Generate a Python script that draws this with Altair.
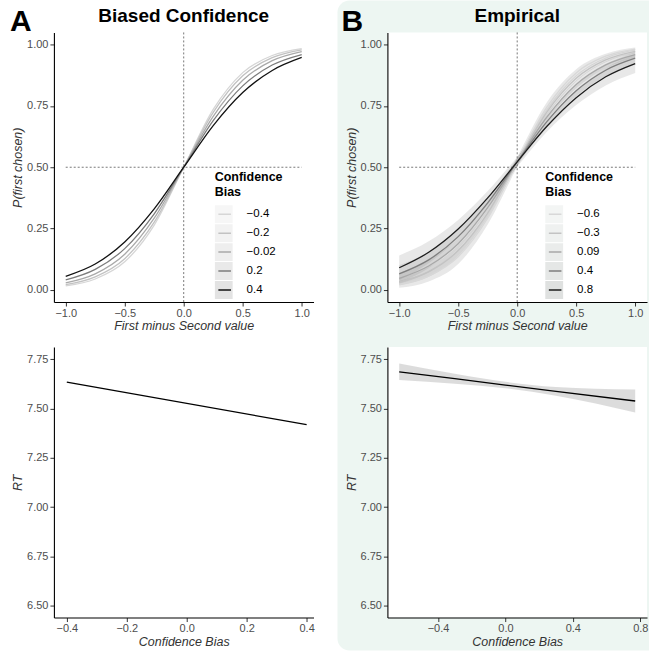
import altair as alt
import pandas as pd

FONT = "Liberation Sans"

# ---------------- data ----------------
x_pts = [-1.0, -0.75, -0.5, -0.25, 0.0, 0.25, 0.5, 0.75, 1.0]

# Panel A (Biased Confidence)
a_levels = [-0.4, -0.2, -0.02, 0.2, 0.4]
a_labels = ["\u22120.4", "\u22120.2", "\u22120.02", "0.2", "0.4"]
a_p = [
    [0.016, 0.044, 0.114, 0.264, 0.5, 0.736, 0.886, 0.956, 0.984],
    [0.021, 0.053, 0.127, 0.276, 0.5, 0.724, 0.873, 0.947, 0.979],
    [0.028, 0.065, 0.145, 0.292, 0.5, 0.708, 0.855, 0.935, 0.972],
    [0.040, 0.083, 0.168, 0.310, 0.5, 0.690, 0.832, 0.917, 0.960],
    [0.055, 0.105, 0.195, 0.330, 0.5, 0.670, 0.805, 0.895, 0.948],
]
a_line_colors = ["#d6d6d6", "#c2c2c2", "#a9a9a9", "#7c7c7c", "#111111"]
a_key_fill = ["#f6f6f6", "#f2f2f2", "#eeeeee", "#e9e9e9", "#e3e3e3"]

# Panel B (Empirical)
b_levels = [-0.6, -0.3, 0.09, 0.4, 0.8]
b_labels = ["\u22120.6", "\u22120.3", "0.09", "0.4", "0.8"]
b_p = [
    [0.022, 0.056, 0.135, 0.292, 0.522, 0.744, 0.885, 0.953, 0.982],
    [0.032, 0.073, 0.160, 0.313, 0.522, 0.724, 0.863, 0.938, 0.973],
    [0.047, 0.097, 0.188, 0.335, 0.522, 0.704, 0.838, 0.918, 0.960],
    [0.065, 0.122, 0.217, 0.355, 0.522, 0.685, 0.812, 0.896, 0.945],
    [0.090, 0.153, 0.248, 0.375, 0.522, 0.666, 0.784, 0.869, 0.923],
]
b_hw = [
    [0.014, 0.022, 0.030, 0.026, 0.020, 0.020, 0.015, 0.010, 0.007],
    [0.015, 0.020, 0.022, 0.018, 0.014, 0.015, 0.013, 0.010, 0.008],
    [0.022, 0.024, 0.022, 0.017, 0.013, 0.015, 0.016, 0.014, 0.012],
    [0.035, 0.033, 0.028, 0.020, 0.015, 0.018, 0.022, 0.024, 0.024],
    [0.050, 0.045, 0.037, 0.028, 0.020, 0.022, 0.030, 0.035, 0.038],
]
b_line_colors = ["#d8d8d8", "#c3c3c3", "#a8a8a8", "#7e7e7e", "#1c1c1c"]
b_key_fill = ["#f3f5f4", "#eff1f0", "#eaeceb", "#e5e7e6", "#dfe1e0"]

# Bottom panels (RT vs Confidence Bias)
rtA_x = [-0.4, 0.4]
rtA_y = [7.634, 7.418]
rtB_x = [-0.63, -0.3, 0.0, 0.3, 0.77]
rtB_y = [7.686, 7.651, 7.619, 7.587, 7.538]
rtB_hw = [0.042, 0.025, 0.016, 0.022, 0.058]

p_ticks = [0.0, 0.25, 0.5, 0.75, 1.0]
x_ticks = [-1.0, -0.5, 0.0, 0.5, 1.0]
rt_ticks = [6.5, 6.75, 7.0, 7.25, 7.5, 7.75]
cbA_ticks = [-0.4, -0.2, 0.0, 0.2, 0.4]
cbB_ticks = [-0.4, 0.0, 0.4, 0.8]

# ---------------- tables ----------------
def curves(levels, labels, pmat, hw=None):
    rows = []
    for i, (lv, lb) in enumerate(zip(levels, labels)):
        for j, x in enumerate(x_pts):
            r = {"x": x, "p": pmat[i][j], "bias": lv, "label": lb, "ord": i}
            if hw is not None:
                r["lo"] = pmat[i][j] - hw[i][j]
                r["hi"] = pmat[i][j] + hw[i][j]
            rows.append(r)
    return pd.DataFrame(rows)

dfA = curves(a_levels, a_labels, a_p)
dfB = curves(b_levels, b_labels, b_p, b_hw)
dfRA = pd.DataFrame({"cb": rtA_x, "rt": rtA_y})
dfRB = pd.DataFrame({"cb": rtB_x, "rt": rtB_y,
                     "lo": [a - b for a, b in zip(rtB_y, rtB_hw)],
                     "hi": [a + b for a, b in zip(rtB_y, rtB_hw)]})
one = pd.DataFrame({"k": [0]})
vref = pd.DataFrame({"x": [0.0]})
href = pd.DataFrame({"x": [-1.0], "x2": [1.0], "y": [0.5]})

W, H_TOP, H_BOT = 260, 270, 271

AX = dict(zindex=1, labelFlush=False)
xs_top = alt.Scale(domain=[-1.1, 1.1], nice=False, zero=False)
ys_top = alt.Scale(domain=[-0.05, 1.05], nice=False, zero=False)
ys_rt = alt.Scale(domain=[6.44, 7.812], nice=False, zero=False)

x_top_axis = alt.Axis(values=x_ticks, format=".1f", title="First minus Second value", **AX)
y_top_axis = alt.Axis(values=p_ticks, format=".2f", title="P(first chosen)", **AX)
y_rt_axis = alt.Axis(values=rt_ticks, format=".2f", title="RT", **AX)

LEG_TITLE = ["Confidence", "\u00a0Bias"]

def legend_common(lx, ly):
    return dict(orient="none", legendX=lx, legendY=ly,
                titleFont=FONT, titleFontSize=12.5, titleFontWeight="bold",
                titleColor="black", titleLineHeight=15, titlePadding=6,
                labelFont=FONT, labelFontSize=11.5, labelColor="black",
                symbolSize=324, clipHeight=19, rowPadding=0, labelOffset=12)

def text_layer(txt, xv, yv, size, align):
    return alt.Chart(one).mark_text(text=txt, font=FONT, fontSize=size, fontWeight="bold",
                                    align=align, baseline="alphabetic", color="black") \
        .encode(x=alt.value(xv), y=alt.value(yv))

def top_panel(df, levels, labels, line_colors, key_fill, lx, ly, band=False):
    x = alt.X("x:Q", scale=xs_top, axis=x_top_axis)
    y = alt.Y("p:Q", scale=ys_top, axis=y_top_axis)
    layers = []
    if band:
        layers.append(
            alt.Chart(df).mark_area(color="#8c8c8c", opacity=0.2, interpolate="monotone")
            .encode(x=x, y=alt.Y("lo:Q", scale=ys_top, axis=y_top_axis), y2="hi:Q",
                    detail="label:N")
        )
    layers.append(
        alt.Chart(vref).mark_rule(color="#555555", strokeDash=[2, 2], strokeWidth=0.8)
        .encode(x=alt.X("x:Q", scale=xs_top, axis=x_top_axis))
    )
    layers.append(
        alt.Chart(href).mark_rule(color="#555555", strokeDash=[2, 2], strokeWidth=0.8)
        .encode(x=alt.X("x:Q", scale=xs_top, axis=x_top_axis), x2="x2:Q",
                y=alt.Y("y:Q", scale=ys_top, axis=y_top_axis))
    )
    # legend key backgrounds (empty data, legend only)
    layers.append(
        alt.Chart(df).mark_rect().transform_filter("datum.p > 5").encode(
            fill=alt.Fill("bias:O", scale=alt.Scale(domain=levels, range=key_fill),
                          legend=alt.Legend(title=["\u00a0", "\u00a0"], labelExpr="''",
                                            symbolType="square", symbolStrokeWidth=0,
                                            symbolOpacity=1, zindex=1,
                                            **legend_common(lx, ly)))
        )
    )
    layers.append(
        alt.Chart(df).mark_line(strokeWidth=1.3, interpolate="monotone").encode(
            x=x, y=y,
            stroke=alt.Stroke("label:N", scale=alt.Scale(domain=labels, range=line_colors),
                              legend=alt.Legend(title=LEG_TITLE, symbolType="M-0.7,0H0.7",
                                                symbolStrokeWidth=1.5, zindex=2,
                                                **legend_common(lx, ly))),
            order="ord:Q",
        )
    )
    return layers

# top-left
tA_layers = top_panel(dfA, a_levels, a_labels, a_line_colors, a_key_fill, 161, 139)
tA_layers.append(text_layer("A", -44, -1, 30, "left"))
tA_layers.append(text_layer("Biased Confidence", W / 2, -10, 19, "center"))
topA = alt.layer(*tA_layers).properties(width=W, height=H_TOP)

# top-right with its panel background
bg = alt.Chart(one).mark_rect(color="#edf6f2", cornerRadiusTopLeft=12,
                              cornerRadiusBottomLeft=12).encode(
    x=alt.value(-50), x2=alt.value(W + 2), y=alt.value(-32), y2=alt.value(619))
white = alt.Chart(one).mark_rect(color="white").encode(
    x=alt.value(0), x2=alt.value(W), y=alt.value(0), y2=alt.value(H_TOP))
tB_layers = [bg, white] + top_panel(dfB, b_levels, b_labels, b_line_colors, b_key_fill,
                                    158, 139, band=True)
tB_layers.append(text_layer("B", -46, -1, 30, "left"))
tB_layers.append(text_layer("Empirical", W / 2, -10, 19, "center"))
topB = alt.layer(*tB_layers).properties(width=W, height=H_TOP)

# bottom-left
xsA = alt.Scale(domain=[-0.443, 0.423], nice=False, zero=False)
botA = alt.Chart(dfRA).mark_line(color="black", strokeWidth=1.3).encode(
    x=alt.X("cb:Q", scale=xsA, axis=alt.Axis(values=cbA_ticks, format=".1f",
                                              title="Confidence Bias", **AX)),
    y=alt.Y("rt:Q", scale=ys_rt, axis=y_rt_axis),
).properties(width=W, height=H_BOT)

# bottom-right
xsB = alt.Scale(domain=[-0.70, 0.84], nice=False, zero=False)
xB = alt.X("cb:Q", scale=xsB, axis=alt.Axis(values=cbB_ticks, format=".1f",
                                             title="Confidence Bias", **AX))
botB = alt.layer(
    alt.Chart(dfRB).mark_area(color="#8c8c8c", opacity=0.3, interpolate="monotone").encode(
        x=xB, y=alt.Y("lo:Q", scale=ys_rt, axis=y_rt_axis), y2="hi:Q"),
    alt.Chart(dfRB).mark_line(color="black", strokeWidth=1.3).encode(
        x=xB, y=alt.Y("rt:Q", scale=ys_rt, axis=y_rt_axis)),
).properties(width=W, height=H_BOT)

chart = alt.concat(
    topA, topB, botA, botB, columns=2, bounds="flush",
    spacing={"row": 45, "column": 74},
).resolve_scale(
    stroke="independent", fill="independent"
).resolve_legend(
    stroke="independent", fill="independent"
).properties(
    padding={"left": 10, "top": 0, "right": 0, "bottom": 0},
    background="white",
).configure_view(
    stroke=None, fill="white"
).configure_axis(
    domainColor="black", domainWidth=1.1, tickColor="#333333", tickSize=4, tickWidth=1,
    labelColor="#4d4d4d", labelFont=FONT, labelFontSize=11,
    titleFont=FONT, titleFontStyle="italic", titleFontWeight="normal", titleFontSize=12.5,
    titleColor="#333333", grid=False,
).configure_axisX(
    labelPadding=1, titlePadding=2
).configure_axisY(
    labelPadding=2, titlePadding=2
)

chart.save("out.html", embed_options={"renderer": "svg", "actions": False})
